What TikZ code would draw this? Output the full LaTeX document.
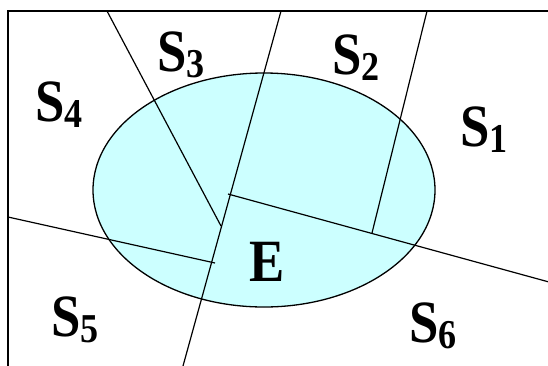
\documentclass[tikz,border=0pt]{standalone}
\usepackage{fontspec}
\usepackage{graphicx}
\setmainfont{Liberation Serif}
\definecolor{ecyan}{HTML}{CCFFFF}
\newcommand\slab[2]{\scalebox{0.88}[1]{\fontsize{60}{60}\selectfont\bfseries #1\raisebox{-6pt}{\fontsize{41}{41}\selectfont #2}}}
\begin{document}
\begin{tikzpicture}[x=1pt,y=-1pt,line width=1.2pt,
  lab/.style={anchor=base west,inner sep=0pt,outer sep=0pt},
  seg/.style={draw=black,line width=1.2pt}]
\useasboundingbox (0,0) rectangle (548,365);
% ellipse E
\draw[fill=ecyan,line width=1.3pt] (264,190) ellipse [x radius=171,y radius=117];
% frame
\coordinate (fbl) at (8,366);
\coordinate (ftl) at (8,11);
\coordinate (ftr) at (549,11);
\draw[seg] (fbl) -- (ftl) -- (ftr);
% boundary lines
\coordinate (a1) at (107,11);   \coordinate (a2) at (221,226);
\coordinate (b1) at (281,11);   \coordinate (b2) at (183,366);
\coordinate (c1) at (228,194);  \coordinate (c2) at (549,282);
\coordinate (d1) at (427,11);   \coordinate (d2) at (372,233);
\coordinate (e1) at (8,217);    \coordinate (e2) at (215,263);
\draw[seg] (a1) -- (a2);
\draw[seg] (b1) -- (b2);
\draw[seg] (c1) -- (c2);
\draw[seg] (d1) -- (d2);
\draw[seg] (e1) -- (e2);
% labels
\node[lab] (s4) at (35,121) {\slab{S}{4}};
\node[lab] (s3) at (157,71) {\slab{S}{3}};
\node[lab] (s2) at (332,74) {\slab{S}{2}};
\node[lab] (s1) at (460,146) {\slab{S}{1}};
\node[lab] (e) at (249,281) {\slab{E}{}};
\node[lab] (s5) at (51,336) {\slab{S}{5}};
\node[lab] (s6) at (409,342) {\slab{S}{6}};
\end{tikzpicture}
\end{document}
